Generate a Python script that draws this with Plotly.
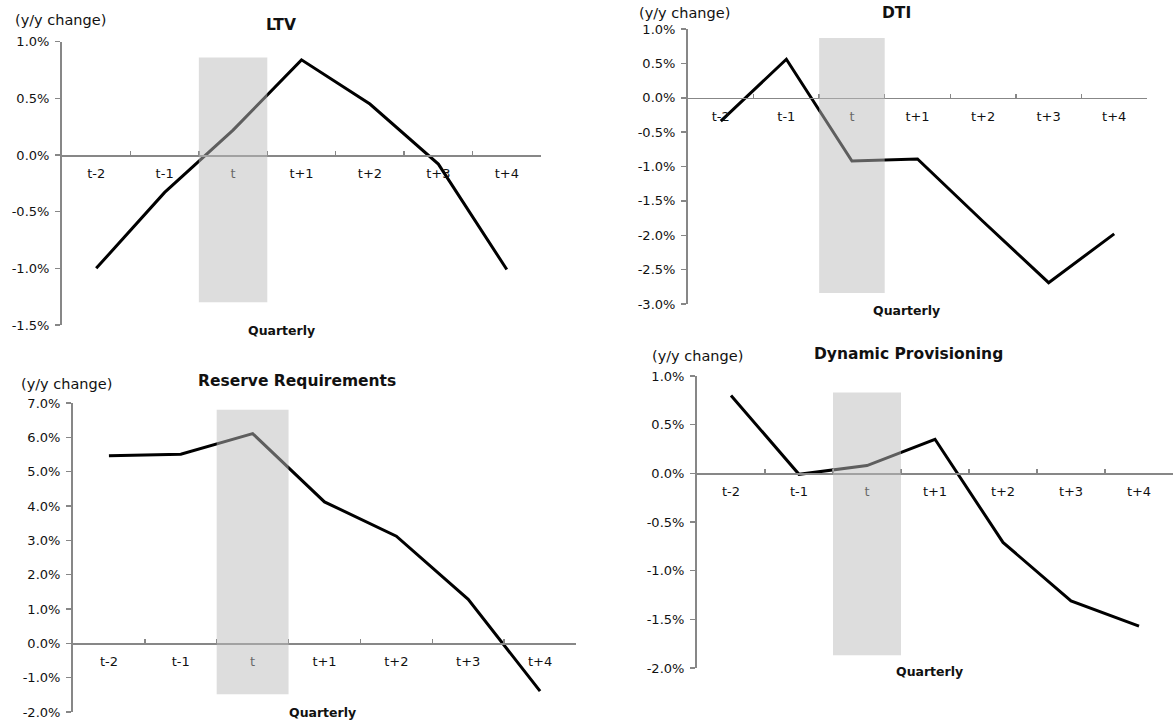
import plotly.graph_objects as go

W, H = 1174, 725

quarters = ["t-2", "t-1", "t", "t+1", "t+2", "t+3", "t+4"]

ltv = [-1.00, -0.33, 0.22, 0.84, 0.45, -0.08, -1.01]
dti = [-0.34, 0.56, -0.92, -0.89, -1.80, -2.69, -1.98]
reserve_req = [5.46, 5.51, 6.11, 4.12, 3.12, 1.28, -1.39]
dyn_prov = [0.80, -0.01, 0.08, 0.35, -0.71, -1.31, -1.57]

ltv_ticks = [-1.5, -1.0, -0.5, 0.0, 0.5, 1.0]
dti_ticks = [-3.0, -2.5, -2.0, -1.5, -1.0, -0.5, 0.0, 0.5, 1.0]
rr_ticks = [-2.0, -1.0, 0.0, 1.0, 2.0, 3.0, 4.0, 5.0, 6.0, 7.0]
dp_ticks = [-2.0, -1.5, -1.0, -0.5, 0.0, 0.5, 1.0]

titles = ["LTV", "DTI", "Reserve Requirements", "Dynamic Provisioning"]
y_label = "(y/y change)"
x_label = "Quarterly"

FONT = "DejaVu Sans"
AXIS_COL = "#878787"

# panel layout in pixels: x0, x1, ytop, ybottom
panels = [
    dict(data=ltv, ticks=ltv_ticks, box=(62, 541, 41.7, 325),
         band=(-1.3, 0.86), ylab=(13, 20), title=(281, 25), xlab=(281, 330)),
    dict(data=dti, ticks=dti_ticks, box=(688, 1147, 29, 304),
         band=(-2.84, 0.87), ylab=(637, 13), title=(896, 13), xlab=(906, 310)),
    dict(data=reserve_req, ticks=rr_ticks, box=(73, 576, 403, 712),
         band=(-1.48, 6.8), ylab=(19, 384), title=(297, 381), xlab=(322, 712)),
    dict(data=dyn_prov, ticks=dp_ticks, box=(697, 1173, 376, 668),
         band=(-1.87, 0.83), ylab=(650, 356), title=(908, 354), xlab=(930, 671)),
]

fig = go.Figure()
annotations = []
shapes = []

for i, p in enumerate(panels, start=1):
    xa = "x" if i == 1 else f"x{i}"
    ya = "y" if i == 1 else f"y{i}"
    x0, x1, yt, yb = p["box"]
    xdom = [x0 / W, x1 / W]
    ydom = [1 - yb / H, 1 - yt / H]
    lo, hi = min(p["ticks"]), max(p["ticks"])
    zero_pos = ydom[0] + (0 - lo) / (hi - lo) * (ydom[1] - ydom[0])

    fig.add_trace(go.Scatter(
        x=quarters, y=p["data"], mode="lines",
        line=dict(color="black", width=3),
        xaxis=xa, yaxis=ya, showlegend=False, hoverinfo="skip",
    ))

    xkey = "xaxis" if i == 1 else f"xaxis{i}"
    ykey = "yaxis" if i == 1 else f"yaxis{i}"
    fig.update_layout(**{
        xkey: dict(
            domain=xdom, anchor="free", position=zero_pos, automargin=False,
            type="category", categoryorder="array", categoryarray=quarters,
            range=[-0.5, 6.5], tickson="boundaries", ticklabelstandoff=6,
            showline=True, linecolor=AXIS_COL, linewidth=1.5,
            ticks="inside", ticklen=4, tickwidth=1.5, tickcolor=AXIS_COL,
            showgrid=False, zeroline=False, fixedrange=True,
            tickfont=dict(family=FONT, size=13, color="#111111"),
        ),
        ykey: dict(
            domain=ydom, anchor=xa, range=[lo, hi], automargin=False,
            tickvals=p["ticks"], ticktext=[f"{v:.1f}%" for v in p["ticks"]],
            ticklabelstandoff=3,
            showline=True, linecolor=AXIS_COL, linewidth=2,
            ticks="outside", ticklen=5, tickwidth=1.5, tickcolor=AXIS_COL,
            showgrid=False, zeroline=False, fixedrange=True,
            tickfont=dict(family=FONT, size=13, color="#111111"),
        ),
    })

    b0, b1 = p["band"]
    shapes.append(dict(
        type="rect", xref=xa, yref=ya, x0=1.5, x1=2.5, y0=b0, y1=b1,
        fillcolor="rgb(188,188,188)", opacity=0.5, line=dict(width=0),
        layer="above",
    ))

    lx, ly = p["ylab"]
    annotations.append(dict(
        text=y_label, xref="paper", yref="paper", x=lx / W, y=1 - ly / H,
        xanchor="left", yanchor="middle", showarrow=False,
        font=dict(family=FONT, size=14.5, color="#111111"),
    ))
    tx, ty = p["title"]
    annotations.append(dict(
        text=f"<b>{titles[i-1]}</b>", xref="paper", yref="paper",
        x=tx / W, y=1 - ty / H, xanchor="center", yanchor="middle",
        showarrow=False, font=dict(family=FONT, size=15.5, color="#111111"),
    ))
    qx, qy = p["xlab"]
    annotations.append(dict(
        text=f"<b>{x_label}</b>", xref="paper", yref="paper",
        x=qx / W, y=1 - qy / H, xanchor="center", yanchor="middle",
        showarrow=False, font=dict(family=FONT, size=12.5, color="#111111"),
    ))

fig.update_layout(
    width=W, height=H,
    margin=dict(l=0, r=0, t=0, b=0, autoexpand=False),
    paper_bgcolor="white", plot_bgcolor="white",
    annotations=annotations, shapes=shapes,
    showlegend=False,
)

fig.write_html(
    "out.html",
    config={"displayModeBar": False, "staticPlot": True},
    post_script="document.body.style.margin='0';document.body.style.overflow='hidden';",
)
